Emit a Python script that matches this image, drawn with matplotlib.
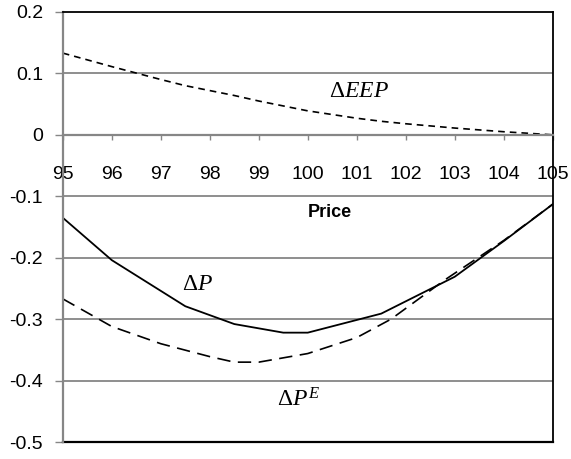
import matplotlib.pyplot as plt

plt.rcParams['font.family'] = ['Liberation Sans', 'DejaVu Sans']
plt.rcParams['mathtext.fontset'] = 'custom'
plt.rcParams['mathtext.rm'] = 'Liberation Serif'
plt.rcParams['mathtext.it'] = 'Liberation Serif:italic'

# price grid and the three curves
price = [95, 96, 97, 97.5, 98, 98.5, 99, 99.5, 100, 101, 101.5, 102, 103, 104, 105]
d_eep = [0.133, 0.111, 0.090, 0.080, 0.072, 0.064, 0.055, 0.047, 0.039, 0.027,
         0.022, 0.018, 0.011, 0.005, 0.0]

price_p = [95, 96, 97.5, 98.5, 99.5, 100, 101.5, 103, 104, 105]
d_p = [-0.135, -0.204, -0.279, -0.308, -0.322, -0.322, -0.291, -0.231, -0.173, -0.113]

price_pe = [95, 96, 97, 98, 98.5, 99, 100, 101, 101.7, 102.8, 104, 105]
d_pe = [-0.267, -0.312, -0.340, -0.361, -0.370, -0.370, -0.356, -0.330, -0.300,
        -0.236, -0.172, -0.113]

xticks = list(range(95, 106))
yticks = [-0.5, -0.4, -0.3, -0.2, -0.1, 0, 0.1, 0.2]
ytick_labels = ['-0.5', '-0.4', '-0.3', '-0.2', '-0.1', '0', '0.1', '0.2']

grey = '#868686'

fig = plt.figure(figsize=(5.71, 4.59), dpi=100)
ax = fig.add_axes([0.110, 0.037, 0.858, 0.937])

ax.plot(price, d_eep, color='black', lw=1.2, dashes=(4, 3))
ax.plot(price_p, d_p, color='black', lw=1.3)
ax.plot(price_pe, d_pe, color='black', lw=1.2, dashes=(8, 4.5))

ax.set_xlim(95, 105)
ax.set_ylim(-0.5, 0.2)
ax.set_yticks(yticks)
ax.set_yticklabels(ytick_labels)
ax.set_xticks(xticks)
ax.set_xticklabels([str(t) for t in xticks])

for y in yticks[1:-1]:
    if y != 0:
        ax.axhline(y, color=grey, lw=1.3, zorder=0)

# x axis sits at zero, frame closes in black
ax.spines['bottom'].set_position(('data', 0))
ax.spines['bottom'].set_color(grey)
ax.spines['bottom'].set_linewidth(1.6)
ax.spines['left'].set_color(grey)
ax.spines['left'].set_linewidth(1.6)
for s in ['top', 'right']:
    ax.spines[s].set_color('black')
    ax.spines[s].set_linewidth(1.3)
ax.axhline(-0.5, color='black', lw=1.6, clip_on=False)

ax.tick_params(axis='x', direction='out', length=3.6, width=1, color=grey,
               pad=18.5, labelsize=14)
ax.tick_params(axis='y', direction='out', length=5.8, width=1, color=grey,
               pad=8.5, labelsize=14)

ax.text(100.45, -0.127, 'Price', fontsize=13, fontweight='bold',
        ha='center', va='center')
ax.text(101.05, 0.072, r'$\Delta EEP$', fontsize=17, ha='center', va='center')
ax.text(97.75, -0.242, r'$\Delta P$', fontsize=17, ha='center', va='center')
ax.text(99.8, -0.432, r'$\Delta P^{E}$', fontsize=17, ha='center', va='center')

fig.savefig('out.png', dpi=100)
